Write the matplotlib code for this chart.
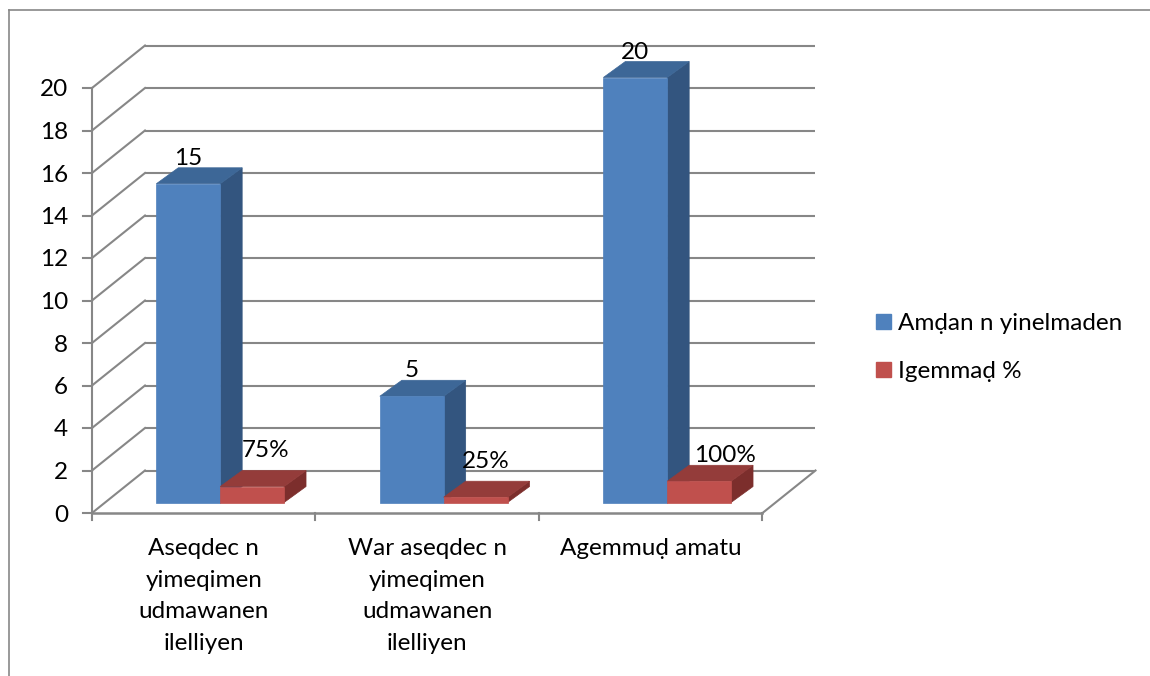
import matplotlib
matplotlib.use("Agg")
import matplotlib.pyplot as plt
from matplotlib.patches import Polygon, Patch
from matplotlib.lines import Line2D

# ---------------- data ----------------
categories = ["Aseqdec n\nyimeqimen\nudmawanen\nilelliyen",
              "War aseqdec n\nyimeqimen\nudmawanen\nilelliyen",
              "Agemmuḍ amatu"]
series_names = ["Amḍan n yinelmaden", "Igemmaḍ %"]
counts = [15, 5, 20]
percents = [0.75, 0.25, 1.00]
percent_labels = ["75%", "25%", "100%"]
y_ticks = [0, 2, 4, 6, 8, 10, 12, 14, 16, 18, 20]

# ---------------- style ----------------
plt.rcParams["font.family"] = ["Lato", "DejaVu Sans"]
FS = 17.5
GRID = "#878787"
front_cols = ["#4F81BD", "#C0504D"]
top_cols = ["#3D6797", "#943C3A"]
side_cols = ["#33557F", "#7C2E2C"]

W, H = 1150, 676
fig = plt.figure(figsize=(W / 100, H / 100), dpi=100)
ax = fig.add_axes([0, 0, 1, 1])

X0 = 92      # pixel of the front-left axis
CAT = 223.5  # pixels per category
Y0 = 513     # pixel of value 0 (front)
UNIT = 21.25 # pixels per value unit
ax.set_xlim(-0.5 - X0 / CAT, -0.5 + (W - X0) / CAT)
ax.set_ylim((Y0 - H) / UNIT, Y0 / UNIT)
ax.axis("off")

n = len(categories)
DX = 53 / CAT      # depth offset of back wall (x)
DY = 42.5 / UNIT   # depth offset of back wall (y)
px = 1 / CAT
pv = 1 / UNIT

# walls / gridlines
xl_, xr_ = -0.5, n - 0.5
for v in y_ticks:
    ax.plot([xl_ + DX, xr_ + DX], [v + DY, v + DY], color=GRID, lw=1.5, zorder=1,
            solid_capstyle="butt")
    ax.plot([xl_, xl_ + DX], [v, v + DY], color=GRID, lw=1.5, zorder=1)
    ax.plot([xl_ - 9 * px, xl_], [v, v], color=GRID, lw=1.5, zorder=1)
    ax.text(xl_ - 24 * px, v, str(v), ha="right", va="center_baseline", fontsize=FS)
# front axis
ax.plot([xl_, xl_], [-7 * pv, y_ticks[-1]], color=GRID, lw=1.5, zorder=1)
ax.plot([xl_, xr_], [0, 0], color=GRID, lw=1.8, zorder=1)
ax.plot([xr_, xr_ + DX], [0, DY], color=GRID, lw=1.5, zorder=1)
for k in range(1, n + 1):
    ax.plot([k - 0.5, k - 0.5], [0, -7 * pv], color=GRID, lw=1.5, zorder=1)

# bars
BW = 1 / 3.5
fx0, fy0 = 0.31, 0.247   # front face depth position
fdx, fdy = 0.415, 0.376  # bar depth
ddx, ddy = fdx * DX, fdy * DY
red_offsets = [(13, 14), (10, 13), (26, 3)]
for i in range(n):
    for s, vals in enumerate([counts, percents]):
        v = vals[i]
        xl = i - BW + s * BW + fx0 * DX
        yb = fy0 * DY
        front = [(xl, yb), (xl + BW, yb), (xl + BW, yb + v), (xl, yb + v)]
        top = [(xl, yb + v), (xl + BW, yb + v), (xl + BW + ddx, yb + v + ddy),
               (xl + ddx, yb + v + ddy)]
        side = [(xl + BW, yb), (xl + BW + ddx, yb + ddy),
                (xl + BW + ddx, yb + v + ddy), (xl + BW, yb + v)]
        z = 3 + i * 2 + s
        for poly, col in ((side, side_cols[s]), (top, top_cols[s]), (front, front_cols[s])):
            ax.add_patch(Polygon(poly, closed=True, facecolor=col, edgecolor=col,
                                 lw=0.5, zorder=z))
        cx = xl + BW / 2
        if s == 0:
            ax.annotate(str(v), xy=(cx, yb + v + ddy), xytext=(0, 3),
                        textcoords="offset pixels", ha="center", va="baseline",
                        fontsize=FS, zorder=20)
        else:
            ax.annotate(percent_labels[i], xy=(cx, yb + v + ddy),
                        xytext=red_offsets[i], textcoords="offset pixels",
                        ha="center", va="baseline", fontsize=FS, zorder=20)

# category labels (centred under each category)
for i, lab in enumerate(categories):
    ax.text(i, -25 * pv, lab, ha="center", va="top", multialignment="center",
            fontsize=FS, linespacing=1.62)

# legend
handles = [Patch(facecolor=c, edgecolor=c) for c in front_cols]
fig.legend(handles, series_names, loc="upper left",
           bbox_to_anchor=(876 / W, 1 - 313 / H), frameon=False, fontsize=FS,
           handlelength=0.6, handleheight=0.6, handletextpad=0.3,
           labelspacing=1.12, borderpad=0, borderaxespad=0)

# outer border (left and top edges visible)
fig.add_artist(Line2D([9 / W, 9 / W], [0, 1 - 10 / H], color=GRID, lw=1.2))
fig.add_artist(Line2D([9 / W, 1], [1 - 10 / H, 1 - 10 / H], color=GRID, lw=1.2))

fig.savefig("out.png", dpi=100)
